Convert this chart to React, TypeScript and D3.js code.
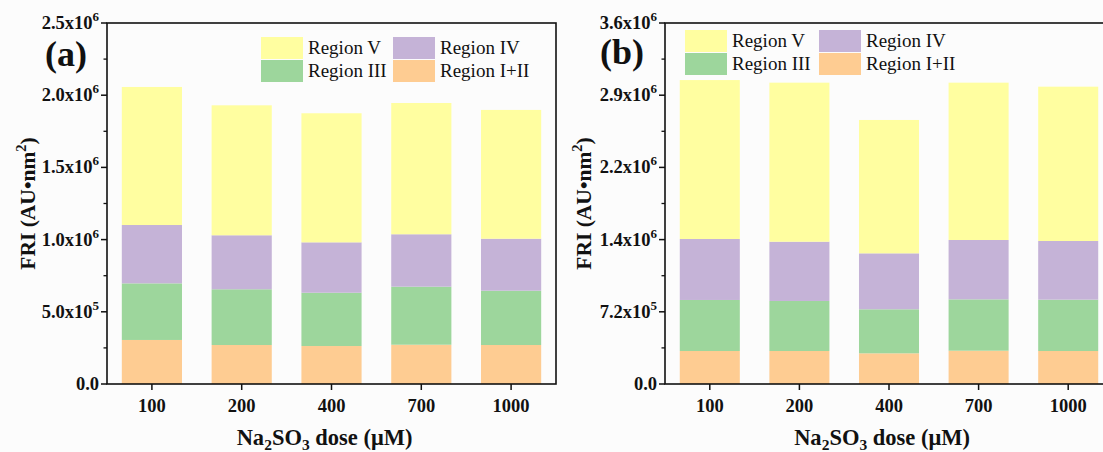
import React from "react";
import * as d3 from "d3";

const categories = ["100", "200", "400", "700", "1000"];
const seriesNames = ["Region I+II", "Region III", "Region IV", "Region V"];
const seriesColors = ["#FECC92", "#9DD69C", "#C5B3D7", "#FFFEA0"];

// Panel (a) values
const aRegionI_II = [0.305e6, 0.270e6, 0.263e6, 0.272e6, 0.270e6];
const aRegionIII = [0.392e6, 0.386e6, 0.369e6, 0.402e6, 0.376e6];
const aRegionIV = [0.404e6, 0.374e6, 0.349e6, 0.363e6, 0.360e6];
const aRegionV = [0.956e6, 0.900e6, 0.894e6, 0.909e6, 0.892e6];
const aYMax = 2.5e6;
const aMajorTicks = [0, 0.5e6, 1.0e6, 1.5e6, 2.0e6, 2.5e6];
const aMinorTicks = [0.25e6, 0.75e6, 1.25e6, 1.75e6, 2.25e6];

// Panel (b) values
const bRegionI_II = [0.329e6, 0.329e6, 0.306e6, 0.332e6, 0.329e6];
const bRegionIII = [0.509e6, 0.499e6, 0.439e6, 0.512e6, 0.512e6];
const bRegionIV = [0.608e6, 0.591e6, 0.558e6, 0.592e6, 0.585e6];
const bRegionV = [1.585e6, 1.586e6, 1.330e6, 1.569e6, 1.539e6];
const bYMax = 3.6e6;
const bMajorTicks = [0, 0.72e6, 1.44e6, 2.16e6, 2.88e6, 3.6e6];
const bMinorTicks = [0.36e6, 1.08e6, 1.8e6, 2.52e6, 3.24e6];

const FONT = "'Liberation Serif', 'Times New Roman', serif";

function fmt(v: number) {
  if (v === 0) return { m: "0.0", e: null as string | null };
  const e = Math.floor(Math.log10(v) + 1e-9);
  const m = (v / Math.pow(10, e)).toFixed(1);
  return { m: m + "x10", e: String(e) };
}

type PanelProps = {
  label: string;
  left: number;
  right: number;
  top: number;
  bottom: number;
  series: number[][];
  yMax: number;
  major: number[];
  minor: number[];
  legendX1: number;
  legendX2: number;
  legendY: number;
  titleX: number;
  labelX: number;
  labelY: number;
};

function Panel(p: PanelProps) {
  const rows = categories.map((c, i) => {
    const r: any = { cat: c };
    seriesNames.forEach((s, k) => (r[s] = p.series[k][i]));
    return r;
  });
  const stacked = d3.stack<any>().keys(seriesNames)(rows);
  const x = d3.scaleBand().domain(categories).range([p.left, p.right]).paddingInner(0.33).paddingOuter(0.165);
  const xc = d3.scalePoint().domain(categories).range([p.left, p.right]).padding(0.5);
  const y = d3.scaleLinear().domain([0, p.yMax]).range([p.bottom, p.top]);
  const midY = (p.top + p.bottom) / 2;
  const midX = (p.left + p.right) / 2;
  const legendOrder = [3, 2, 1, 0]; // V, IV, III, I+II
  const legendPos = [
    [p.legendX1, p.legendY],
    [p.legendX2, p.legendY],
    [p.legendX1, p.legendY + 23],
    [p.legendX2, p.legendY + 23],
  ];
  return (
    <g>
      {stacked.map((layer, k) => (
        <g key={k} fill={seriesColors[k]}>
          {layer.map((d: any, i: number) => (
            <rect
              key={i}
              x={x(categories[i])}
              width={x.bandwidth()}
              y={y(d[1])}
              height={y(d[0]) - y(d[1])}
            />
          ))}
        </g>
      ))}
      <rect x={p.left} y={p.top} width={p.right - p.left} height={p.bottom - p.top} fill="none" stroke="#111" strokeWidth={1.6} />
      {p.major.map((t, i) => {
        const f = fmt(t);
        return (
          <g key={"M" + i}>
            <line x1={p.left - 6} x2={p.left} y1={y(t)} y2={y(t)} stroke="#111" strokeWidth={1.5} />
            <text x={p.left - 8} y={y(t) + 6} textAnchor="end" fontFamily={FONT} fontWeight="bold" fontSize={18.5} fill="#111">
              {f.m}
              {f.e && (
                <tspan dy={-8} fontSize={13}>
                  {f.e}
                </tspan>
              )}
            </text>
          </g>
        );
      })}
      {p.minor.map((t, i) => (
        <line key={"m" + i} x1={p.left - 3.5} x2={p.left} y1={y(t)} y2={y(t)} stroke="#111" strokeWidth={1.3} />
      ))}
      {categories.map((c) => (
        <g key={c}>
          <line x1={xc(c)} x2={xc(c)} y1={p.bottom} y2={p.bottom + 6} stroke="#111" strokeWidth={1.5} />
          <text x={xc(c)} y={p.bottom + 28} textAnchor="middle" fontFamily={FONT} fontWeight="bold" fontSize={18.5} fill="#111">
            {c}
          </text>
        </g>
      ))}
      <text x={p.titleX} y={midY} transform={`rotate(-90 ${p.titleX} ${midY})`} textAnchor="middle" fontFamily={FONT} fontWeight="bold" fontSize={21.5} fill="#111" dy={7}>
        FRI (AU•nm
        <tspan dy={-9} fontSize={14.5}>2</tspan>
        <tspan dy={9}>)</tspan>
      </text>
      <text x={midX - 7} y={445} textAnchor="middle" fontFamily={FONT} fontWeight="bold" fontSize={22.5} fill="#111">
        Na<tspan dy={5} fontSize={15.5}>2</tspan>
        <tspan dy={-5}>SO</tspan>
        <tspan dy={5} fontSize={15.5}>3</tspan>
        <tspan dy={-5}> dose (μM)</tspan>
      </text>
      <text x={p.labelX} y={p.labelY} fontFamily={FONT} fontWeight="bold" fontSize={36} fill="#111">
        {p.label}
      </text>
      {legendOrder.map((k, j) => (
        <g key={"L" + k}>
          <rect x={legendPos[j][0]} y={legendPos[j][1] - 11} width={42} height={22} fill={seriesColors[k]} />
          <text x={legendPos[j][0] + 47} y={legendPos[j][1] + 6} fontFamily={FONT} fontSize={19} fill="#111">
            {seriesNames[k]}
          </text>
        </g>
      ))}
    </g>
  );
}

export default function App() {
  return (
    <div style={{ position: "absolute", left: 0, top: 0 }}>
      <svg width={1103} height={452} style={{ display: "block", background: "#FCFCFC" }}>
        <Panel
          label="(a)"
          left={107}
          right={556}
          top={23}
          bottom={384}
          series={[aRegionI_II, aRegionIII, aRegionIV, aRegionV]}
          yMax={aYMax}
          major={aMajorTicks}
          minor={aMinorTicks}
          legendX1={261}
          legendX2={393}
          legendY={48}
          titleX={28}
          labelX={45}
          labelY={66}
        />
        <Panel
          label="(b)"
          left={665}
          right={1113}
          top={23}
          bottom={384}
          series={[bRegionI_II, bRegionIII, bRegionIV, bRegionV]}
          yMax={bYMax}
          major={bMajorTicks}
          minor={bMinorTicks}
          legendX1={685}
          legendX2={819}
          legendY={41}
          titleX={584}
          labelX={600}
          labelY={64}
        />
      </svg>
    </div>
  );
}
